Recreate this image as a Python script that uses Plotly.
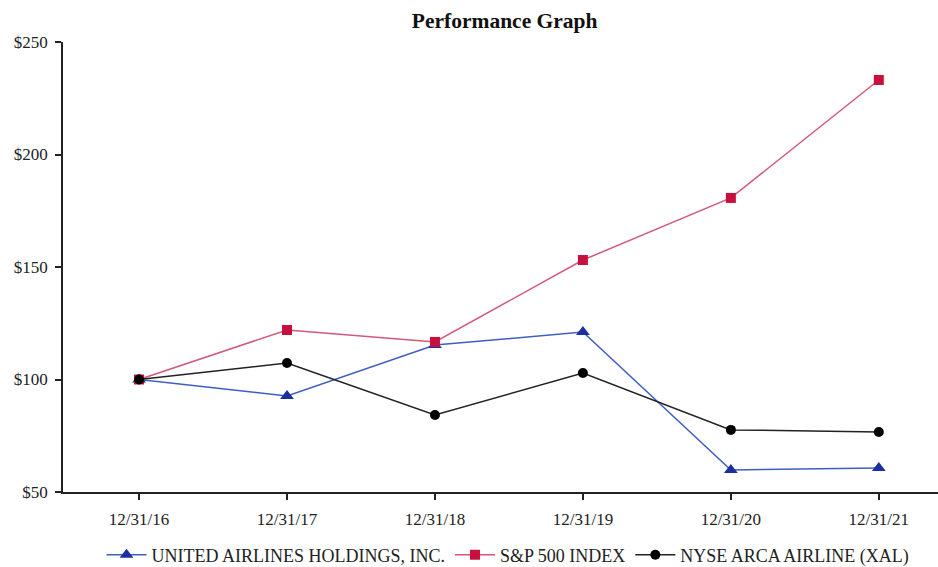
import plotly.graph_objects as go

dates = ["12/31/16", "12/31/17", "12/31/18", "12/31/19", "12/31/20", "12/31/21"]
ual = [100, 92.7, 115.3, 121.1, 59.8, 60.7]
spx = [100, 122.0, 116.7, 153.1, 180.7, 233.1]
xal = [100, 107.3, 84.2, 102.9, 77.6, 76.7]
y_ticks = [50, 100, 150, 200, 250]
y_labels = ["$50", "$100", "$150", "$200", "$250"]

font_family = "Liberation Serif, Times New Roman, serif"

fig = go.Figure()
fig.add_trace(go.Scatter(
    x=dates, y=ual, name="UNITED AIRLINES HOLDINGS, INC.", mode="lines+markers",
    line=dict(color="#3f5fc0", width=1.5),
    marker=dict(symbol="triangle-up", size=12, color="#1b2f9e")))
fig.add_trace(go.Scatter(
    x=dates, y=spx, name="S&P 500 INDEX", mode="lines+markers",
    line=dict(color="#d4587a", width=1.5),
    marker=dict(symbol="square", size=10, color="#c8103f")))
fig.add_trace(go.Scatter(
    x=dates, y=xal, name="NYSE ARCA AIRLINE (XAL)", mode="lines+markers",
    line=dict(color="#222222", width=1.5),
    marker=dict(symbol="circle", size=10, color="#000000")))

fig.update_layout(
    width=938, height=567,
    margin=dict(l=63, r=0, t=42, b=75, autoexpand=False),
    paper_bgcolor="white", plot_bgcolor="white",
    font=dict(family=font_family, size=17, color="#222222"),
    title=dict(text="<b>Performance Graph</b>", x=0.538, xanchor="center",
               y=1 - 20 / 567, yanchor="middle",
               font=dict(family=font_family, size=21.5, color="#111111")),
    showlegend=True,
    legend=dict(orientation="h", xref="container", yref="container",
                x=508 / 938, xanchor="center", y=1 - 555 / 567, yanchor="middle",
                font=dict(family=font_family, size=18, color="#222222"),
                itemwidth=40, tracegroupgap=0),
)
fig.update_xaxes(
    type="category", range=[-0.514, 5.40],
    showline=True, linecolor="#222222", linewidth=1.5,
    ticks="outside", ticklen=6, tickcolor="#222222", tickwidth=1.5,
    showgrid=False, zeroline=False, ticklabelstandoff=5,
    tickfont=dict(family=font_family, size=17, color="#222222"))
fig.update_yaxes(
    range=[50, 250], tickvals=y_ticks, ticktext=y_labels,
    showline=True, linecolor="#222222", linewidth=1.5,
    ticks="outside", ticklen=6, tickcolor="#222222", tickwidth=1.5,
    showgrid=False, zeroline=False, ticklabelstandoff=4,
    tickfont=dict(family=font_family, size=17, color="#222222"))

fig.write_html("out.html", config={"displayModeBar": False},
               post_script="document.body.style.margin='0';document.body.style.overflow='hidden';")
